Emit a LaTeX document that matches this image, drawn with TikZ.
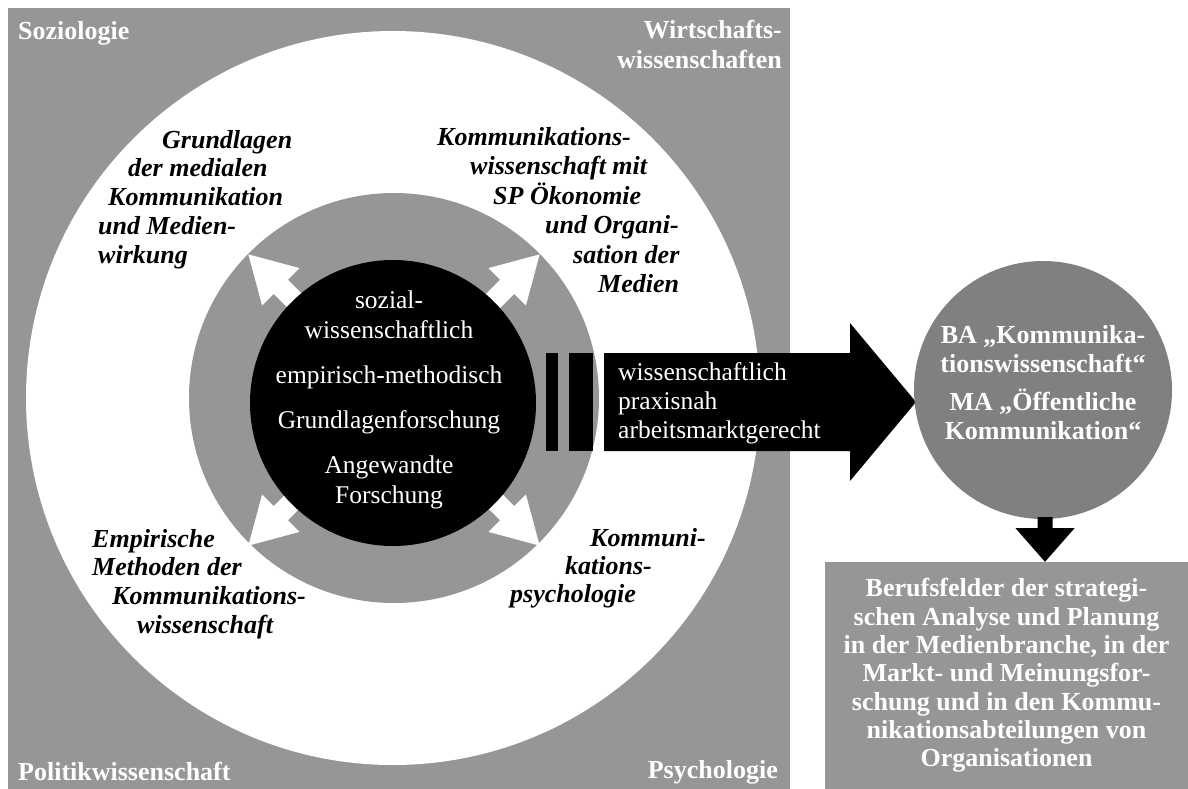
\documentclass[tikz,border=0pt]{standalone}
\usepackage{fontspec}
\setmainfont{Liberation Serif}
\usepackage{tikz}
\usetikzlibrary{positioning, calc}
\definecolor{fieldgray}{RGB}{150,150,150}
\definecolor{degreegray}{RGB}{128,128,128}
\tikzset{
  discipline/.style={font=\fontsize{26}{30}\selectfont\bfseries, text=white, inner sep=0pt},
  module/.style={font=\fontsize{26}{28.7}\selectfont\bfseries\itshape, align=left,
    inner sep=0pt, anchor=north west},
  coretext/.style={font=\fontsize{25.5}{30}\selectfont, text=white, align=center,
    inner sep=0pt, anchor=north},
  traittext/.style={font=\fontsize{25.5}{29}\selectfont, text=white, align=left,
    inner sep=0pt, anchor=north west},
  degreetext/.style={font=\fontsize{26}{29}\selectfont\bfseries, text=white, align=center,
    inner sep=0pt, anchor=north},
  ring/.style={circle, inner sep=0pt, draw=none},
  careerbox/.style={rectangle, fill=fieldgray, inner sep=0pt, minimum width=363pt,
    minimum height=227pt, align=center, text=white,
    font=\fontsize{26}{28.3}\selectfont\bfseries}
}

\begin{document}
\begin{tikzpicture}[x=1pt, y=-1pt]
\useasboundingbox (0,0) rectangle (1188,789);

% disciplines around the core
\fill[fieldgray] (8,8) rectangle (790,789);
\node[ring, fill=white, minimum size=734pt] (field) at (393,398) {};
\node[ring, fill=fieldgray, minimum size=410pt] (modules) at (394,398) {};

\foreach \a in {45,135,225,315}
  \fill[white, shift={(394,400)}, rotate=\a]
    (120,-10) -- (160,-10) -- (160,-26.5) -- (206,0) -- (160,26.5) -- (160,10) -- (120,10) -- cycle;

\node[ring, fill=black, minimum size=286pt] (core) at (393,403) {};

% output arrow
\fill (546,353) rectangle (558,451);
\fill (569,353) rectangle (593,451);
\coordinate (tip) at (916,402);
\fill (604,353) -- (850,353) -- (850,323) -- (tip) -- (850,481) -- (850,451) -- (604,451) -- cycle;

\node[ring, fill=degreegray, minimum size=258pt] (degree) at (1043,390) {};
\node[careerbox] (career) at (1006.5,675.5) {Berufsfelder der strategi-\\schen Analyse und Planung\\in der Medienbranche, in der\\Markt- und Meinungsfor-\\schung und in den Kommu-\\nikationsabteilungen von\\Organisationen};
\coordinate (drop) at ($(degree.south)+(2,0)$);
\fill ($(drop)+(-7.5,-2)$) -- ($(drop)+(7.5,-2)$) -- ($(drop)+(7.5,9)$) -- ($(drop)+(29.5,9)$)
  -- (drop |- career.north) -- ($(drop)+(-29.5,9)$) -- ($(drop)+(-7.5,9)$) -- cycle;

% texts
\node[discipline, anchor=base west] (soz) at (18,40) {Soziologie};
\node[discipline, anchor=north east, align=right] (wiwi) at (782,20) {Wirtschafts-\\wissenschaften};
\node[discipline, anchor=base west] (pol) at (18,780) {Politikwissenschaft};
\node[discipline, anchor=base east] (psy) at (778,778) {Psychologie};

\node[module] (grund) at (98,130) {\hspace*{64pt}Grundlagen\\\hspace*{30pt}der medialen\\\hspace*{10pt}Kommunikation\\und Medien-\\wirkung};
\node[module, font=\fontsize{26}{29.5}\selectfont\bfseries\itshape] (oeko) at (437,127) {Kommunikations-\\\hspace*{33pt}wissenschaft mit\\\hspace*{56pt}SP Ökonomie\\\hspace*{108pt}und Organi-\\\hspace*{136pt}sation der\\\hspace*{161pt}Medien};
\node[module] (emp) at (92,529) {Empirische\\Methoden der\\\hspace*{20pt}Kommunikations-\\\hspace*{45pt}wissenschaft};
\node[module, font=\fontsize{26}{28}\selectfont\bfseries\itshape] (kpsy) at (510,528) {\hspace*{80pt}Kommuni-\\\hspace*{55pt}kations-\\psychologie};

\node[coretext] (coreinfo) at (389,290.6) {sozial-\\wissenschaftlich\\[15pt]empirisch-methodisch\\[15pt]Grundlagenforschung\\[15pt]Angewandte\\Forschung};
\node[traittext] (traits) at (618,362.6) {wissenschaftlich\\praxisnah\\arbeitsmarktgerecht};
\node[degreetext] (degreeinfo) at (1043,325) {BA „Kommunika-\\tionswissenschaft“\\[9pt]MA „Öffentliche\\Kommunikation“};
\end{tikzpicture}
\end{document}
